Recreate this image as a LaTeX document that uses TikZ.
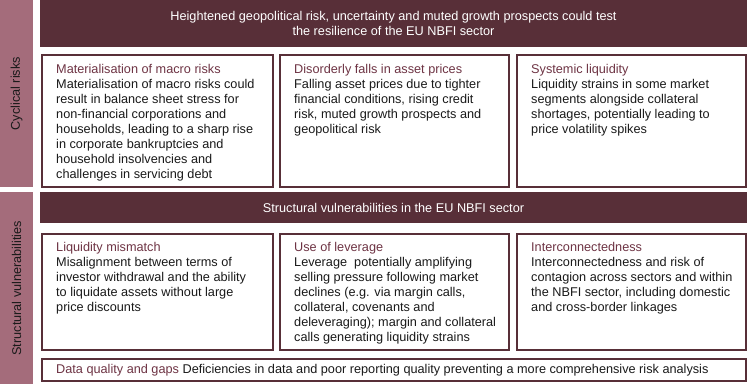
\documentclass[tikz,border=0pt]{standalone}
\usepackage{fontspec}
\setmainfont{Liberation Sans}
\definecolor{hdr}{HTML}{582F38}
\definecolor{side}{HTML}{A46C7B}
\definecolor{ttl}{HTML}{6E3444}
\definecolor{body}{HTML}{1A1A1A}
\begin{document}
\begin{tikzpicture}[x=1pt,y=-1pt,
  fnt/.style={font=\fontsize{12.7}{15}\selectfont},
  sidebar/.style={fill=side, draw=none, inner sep=0pt, anchor=north west},
  sidetxt/.style={fnt, rotate=90, text=body, inner sep=0pt},
  header/.style={fill=hdr, draw=none, inner sep=0pt, anchor=north west},
  hdrtxt/.style={fnt, text=white, align=center, inner sep=0pt},
  card/.style={draw=hdr, line width=2pt, fill=white, inner sep=0pt, anchor=north west},
  cardtxt/.style={fnt, text=body, align=left, inner sep=0pt, anchor=north west},
  ttlc/.style={text=ttl}]
\useasboundingbox (0,0) rectangle (747,386);
% side bars
\node[sidebar, minimum width=33, minimum height=187] (s1) at (0,0) {};
\node[sidebar, minimum width=33, minimum height=192] (s2) at (0,192) {};
\node[sidetxt] at (s1.center) {Cyclical risks};
\node[sidetxt] at (s2.center) {Structural vulnerabilities};
% headers
\node[header, minimum width=707, minimum height=47] (h1) at (40,0) {};
\node[hdrtxt, anchor=north] at (393.5,11.4) {Heightened geopolitical risk, uncertainty and muted growth prospects could test\\the resilience of the EU NBFI sector};
\node[header, minimum width=707, minimum height=31] (h2) at (40,192) {};
\node[hdrtxt, anchor=base] at (393.5,212) {Structural vulnerabilities in the EU NBFI sector};
% row 1 cards
\node[card, minimum width=231, minimum height=132] (c1) at (41,54) {};
\node[card, minimum width=229, minimum height=132] (c2) at (279,54) {};
\node[card, minimum width=229, minimum height=132] (c3) at (516,54) {};
\node[cardtxt] (t1) at (56,64.4) {\textcolor{ttl}{Materialisation of macro risks}\\Materialisation of macro risks could\\result in balance sheet stress for\\non-financial corporations and\\households, leading to a sharp rise\\in corporate bankruptcies and\\household insolvencies and\\challenges in servicing debt};
\node[cardtxt] (t2) at (294,64.4) {\textcolor{ttl}{Disorderly falls in asset prices}\\Falling asset prices due to tighter\\financial conditions, rising credit\\risk, muted growth prospects and\\geopolitical risk};
\node[cardtxt] (t3) at (531,64.4) {\textcolor{ttl}{Systemic liquidity}\\Liquidity strains in some market\\segments alongside collateral\\shortages, potentially leading to\\price volatility spikes};
% row 2 cards
\node[card, minimum width=231, minimum height=116] (d1) at (41,233) {};
\node[card, minimum width=229, minimum height=116] (d2) at (279,233) {};
\node[card, minimum width=229, minimum height=116] (d3) at (516,233) {};
\node[cardtxt] (u1) at (56,242.5) {\textcolor{ttl}{Liquidity mismatch}\\Misalignment between terms of\\investor withdrawal and the ability\\to liquidate assets without large\\price discounts};
\node[cardtxt] (u2) at (294,242.5) {\textcolor{ttl}{Use of leverage}\\Leverage\ \ potentially amplifying\\selling pressure following market\\declines (e.g. via margin calls,\\collateral, covenants and\\deleveraging);\ margin and collateral\\calls generating liquidity strains};
\node[cardtxt] (u3) at (531,242.5) {\textcolor{ttl}{Interconnectedness}\\Interconnectedness and risk of\\contagion across sectors and within\\the NBFI sector, including domestic\\and cross-border linkages};
% bottom box
\node[card, minimum width=704, minimum height=22] (b) at (41,358) {};
\node[fnt, text=body, inner sep=0pt, anchor=base west] (bt) at (56,373.3) {\textcolor{ttl}{Data quality and gaps} Deficiencies in data and poor reporting quality preventing a more comprehensive risk analysis};
\end{tikzpicture}
\end{document}
